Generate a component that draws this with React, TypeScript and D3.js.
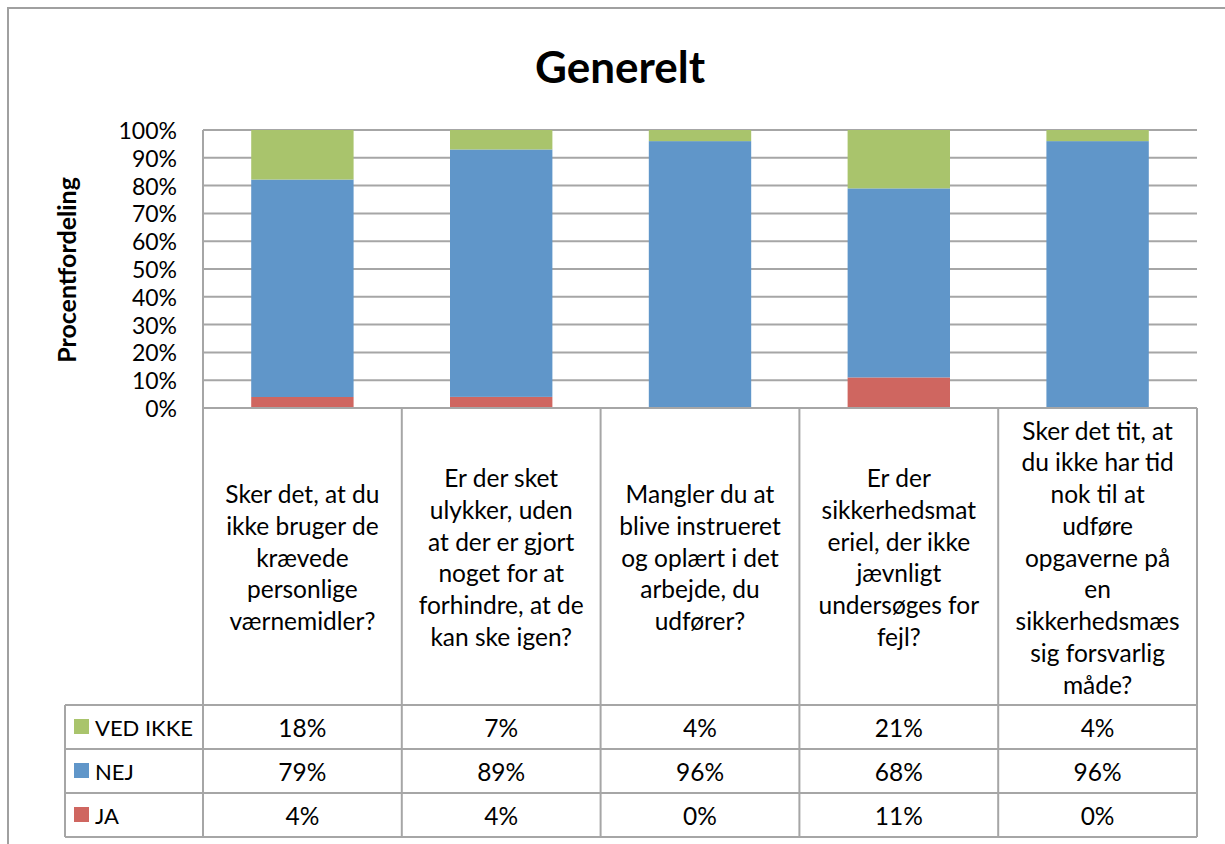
import React from 'react';
import { useEffect, useRef } from 'react';
import * as d3 from 'd3';

// chart data
const categories = ['q1', 'q2', 'q3', 'q4', 'q5'];
const categoryLines = [
    ['Sker det, at du', 'ikke bruger de', 'krævede', 'personlige', 'værnemidler?'],
    ['Er der sket', 'ulykker, uden', 'at der er gjort', 'noget for at', 'forhindre, at de', 'kan ske igen?'],
    ['Mangler du at', 'blive instrueret', 'og oplært i det', 'arbejde, du', 'udfører?'],
    ['Er der', 'sikkerhedsmat', 'eriel, der ikke', 'jævnligt', 'undersøges for', 'fejl?'],
    ['Sker det tit, at', 'du ikke har tid', 'nok til at', 'udføre', 'opgaverne på', 'en', 'sikkerhedsmæs', 'sig forsvarlig', 'måde?'],
];
const jaValues = [4, 4, 0, 11, 0];
const nejValues = [79, 89, 96, 68, 96];
const vedIkkeValues = [18, 7, 4, 21, 4];
const seriesNames = ['JA', 'NEJ', 'VED IKKE'];
const seriesColors = ['#CF6660', '#6096C9', '#A9C46C'];
const yTicks = [0, 0.1, 0.2, 0.3, 0.4, 0.5, 0.6, 0.7, 0.8, 0.9, 1];

const FONT = 'Lato, "Open Sans", sans-serif';
const GRID = '#A6A6A6';

export default function App() {
    const svgNode = useRef(null);

    useEffect(() => {
        const plot = { left: 203, right: 1197, top: 130, bottom: 408 };
        const headerBottom = 705;
        const rowH = 44;
        const legendLeft = 65;

        const svg = d3.select(svgNode.current);
        svg.selectAll('*').remove();

        // outer frame (only left and top edge visible)
        svg.append('rect')
            .attr('x', 8).attr('y', 8)
            .attr('width', 1400).attr('height', 1000)
            .attr('fill', 'white')
            .attr('stroke', '#A0A0A0').attr('stroke-width', 2);

        // title
        svg.append('text')
            .attr('x', 620).attr('y', 83)
            .attr('text-anchor', 'middle')
            .attr('font-family', FONT).attr('font-weight', 'bold')
            .attr('font-size', 44).attr('fill', '#000')
            .text('Generelt');

        const x = d3.scaleBand()
            .domain(categories)
            .range([plot.left, plot.right])
            .paddingInner(0).paddingOuter(0);
        const y = d3.scaleLinear()
            .domain([0, 1])
            .range([plot.bottom, plot.top]);

        // gridlines
        svg.append('g').selectAll('line')
            .data(yTicks)
            .join('line')
            .attr('x1', plot.left).attr('x2', plot.right)
            .attr('y1', d => y(d)).attr('y2', d => y(d))
            .attr('stroke', GRID).attr('stroke-width', 2);

        // y tick labels
        svg.append('g').selectAll('text')
            .data(yTicks)
            .join('text')
            .attr('x', 177).attr('y', d => y(d) + 9)
            .attr('text-anchor', 'end')
            .attr('font-family', FONT).attr('font-size', 23)
            .text(d => d3.format('.0%')(d));

        // y axis title
        svg.append('text')
            .attr('transform', 'translate(76,270) rotate(-90)')
            .attr('text-anchor', 'middle')
            .attr('font-family', FONT).attr('font-weight', 'bold')
            .attr('font-size', 25)
            .text('Procentfordeling');

        // stacked bars
        const table = categories.map((c, i) => ({
            cat: c, JA: jaValues[i], NEJ: nejValues[i], 'VED IKKE': vedIkkeValues[i],
        }));
        const stacked = d3.stack().keys(seriesNames).offset(d3.stackOffsetExpand)(table);
        const barW = x.bandwidth() * 0.515;
        svg.append('g').selectAll('g')
            .data(stacked)
            .join('g')
            .attr('fill', (d, i) => seriesColors[i])
            .selectAll('rect')
            .data(d => d)
            .join('rect')
            .attr('x', d => x(d.data.cat) + (x.bandwidth() - barW) / 2)
            .attr('width', barW)
            .attr('y', d => y(d[1]))
            .attr('height', d => y(d[0]) - y(d[1]));

        // data table lines
        const lines = svg.append('g').attr('stroke', GRID).attr('stroke-width', 2);
        lines.append('line')
            .attr('x1', plot.left).attr('x2', plot.left)
            .attr('y1', plot.top).attr('y2', headerBottom + rowH * 3);
        lines.append('line')
            .attr('x1', plot.left).attr('x2', plot.right)
            .attr('y1', plot.bottom).attr('y2', plot.bottom);
        lines.selectAll('.vsep')
            .data(categories)
            .join('line')
            .attr('x1', d => x(d) + x.bandwidth()).attr('x2', d => x(d) + x.bandwidth())
            .attr('y1', plot.bottom).attr('y2', headerBottom + rowH * 3);
        lines.selectAll('.hrow')
            .data([0, 1, 2, 3])
            .join('line')
            .attr('x1', legendLeft).attr('x2', plot.right)
            .attr('y1', d => headerBottom + d * rowH).attr('y2', d => headerBottom + d * rowH);
        lines.append('line')
            .attr('x1', legendLeft).attr('x2', legendLeft)
            .attr('y1', headerBottom).attr('y2', headerBottom + rowH * 3);

        // category labels in header cells
        const lineH = 31.75;
        const midY = (plot.bottom + headerBottom) / 2 + 10;
        categories.forEach((c, i) => {
            const ls = categoryLines[i];
            const cx = x(c) + x.bandwidth() / 2;
            svg.append('g').selectAll('text')
                .data(ls)
                .join('text')
                .attr('x', cx)
                .attr('y', (d, j) => midY + (j - (ls.length - 1) / 2) * lineH)
                .attr('text-anchor', 'middle')
                .attr('font-family', FONT).attr('font-size', 24.5)
                .text(d => d);
        });

        // legend keys and values, top row is the top series
        const rowSeries = [2, 1, 0];
        const seriesValues = [jaValues, nejValues, vedIkkeValues];
        rowSeries.forEach((s, r) => {
            const ry = headerBottom + r * rowH;
            svg.append('rect')
                .attr('x', 74).attr('y', ry + 14)
                .attr('width', 15).attr('height', 15)
                .attr('fill', seriesColors[s]);
            svg.append('text')
                .attr('x', 95).attr('y', ry + 31)
                .attr('font-family', FONT).attr('font-size', 22)
                .text(seriesNames[s]);
            svg.append('g').selectAll('text')
                .data(seriesValues[s])
                .join('text')
                .attr('x', (d, i) => x(categories[i]) + x.bandwidth() / 2)
                .attr('y', ry + 32)
                .attr('text-anchor', 'middle')
                .attr('font-family', FONT).attr('font-size', 24.5)
                .text(d => d + '%');
        });
    }, []);

    return (
        <div style={{ position: 'fixed', left: 0, top: 0 }}>
            <svg ref={svgNode} width={1225} height={844} style={{ display: 'block' }}></svg>
        </div>
    );
}
